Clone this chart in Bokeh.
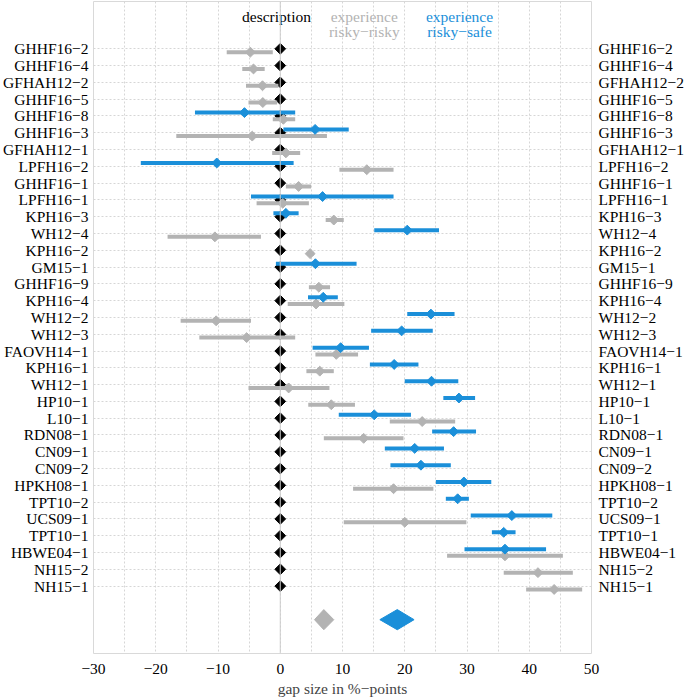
import math
from bokeh.plotting import figure
from bokeh.models import Range1d, FixedTicker, ColumnDataSource, Span, LinearAxis
from bokeh.core.properties import value
from bokeh.embed import file_html
from bokeh.resources import INLINE

# ---------------- data ----------------
studies = ["GHHF16−2", "GHHF16−4", "GFHAH12−2", "GHHF16−5", "GHHF16−8", "GHHF16−3",
           "GFHAH12−1", "LPFH16−2", "GHHF16−1", "LPFH16−1", "KPH16−3", "WH12−4",
           "KPH16−2", "GM15−1", "GHHF16−9", "KPH16−4", "WH12−2", "WH12−3",
           "FAOVH14−1", "KPH16−1", "WH12−1", "HP10−1", "L10−1", "RDN08−1",
           "CN09−1", "CN09−2", "HPKH08−1", "TPT10−2", "UCS09−1", "TPT10−1",
           "HBWE04−1", "NH15−2", "NH15−1"]

# experience risky-risky (grey)
rr_est = [-4.8, -4.3, -2.85, -2.8, 0.5, -4.5, 0.9, 13.9, 2.95, 0.4, 8.6, -10.5,
          4.8, None, 6.2, 5.75, -10.3, -5.4, 9.0, 6.35, 1.35, 8.2, 22.8, 13.4,
          None, None, 18.2, None, 20.0, None, 36.1, 41.4, 44.0]
rr_lo = [-8.6, -6.1, -5.5, -5.1, -1.2, -16.7, -1.3, 9.5, 0.9, -3.8, 7.3, -18.1,
         4.3, None, 4.6, 1.2, -16.0, -13.0, 5.65, 4.2, -5.1, 4.5, 17.6, 7.0,
         None, None, 11.7, None, 10.2, None, 26.8, 35.9, 39.5]
rr_hi = [-1.2, -2.5, -0.3, -0.5, 2.4, 7.5, 3.2, 18.2, 4.95, 4.6, 10.2, -3.1,
         5.4, None, 8.0, 10.3, -4.7, 2.4, 12.5, 8.6, 7.9, 12.0, 28.1, 19.8,
         None, None, 24.6, None, 29.9, None, 45.4, 47.0, 48.5]

# experience risky-safe (blue)
rs_est = [None, None, None, None, -5.75, 5.6, None, -10.2, None, 6.8, 0.9, 20.4,
          None, 5.65, None, 6.9, 24.2, 19.5, 9.7, 18.3, 24.3, 28.7, 15.1, 27.85,
          21.6, 22.6, 29.5, 28.5, 37.2, 35.9, 36.1, None, None]
rs_lo = [None, None, None, None, -13.7, 0.5, None, -22.4, None, -4.7, -1.1, 15.1,
         None, -0.7, None, 4.46, 20.4, 14.6, 5.2, 14.4, 20.0, 26.2, 9.4, 24.4,
         16.8, 17.7, 25.0, 26.6, 30.6, 34.0, 29.6, None, None]
rs_hi = [None, None, None, None, 2.4, 11.0, None, 2.15, None, 18.2, 2.95, 25.5,
         None, 12.26, None, 9.25, 28.0, 24.5, 14.25, 22.2, 28.6, 31.3, 21.0, 31.45,
         26.3, 27.4, 33.9, 30.3, 43.7, 37.8, 42.7, None, None]

# description (reference, black)
desc_est = [0.0] * len(studies)

# pooled estimates (summary diamonds)
summary_names = ["experience risky−risky", "experience risky−safe"]
summary_est = [7.0, 18.8]
summary_lo = [5.5, 16.0]
summary_hi = [8.6, 21.5]

x_ticks = [-30, -20, -10, 0, 10, 20, 30, 40, 50]
x_tick_labels = ["−30", "−20", "−10", "0", "10", "20", "30", "40", "50"]
x_grid = [-25, -20, -15, -10, -5, 0, 5, 10, 15, 20, 25, 30, 35, 40, 45]

# ---------------- styling ----------------
GREY = "#b3b3b3"
BLUE = "#1b8fd9"
FONT = "Liberation Serif"
FS_ROW = "15.5px"
FS = "15.5px"
n = len(studies)
rows = list(range(n))
summary_row = n + 1
off = 0.2

p = figure(frame_width=498, frame_height=652,
           x_range=Range1d(-30.0, 50.0), y_range=Range1d(36.015, -2.817),
           output_backend="svg", toolbar_location=None,
           min_border_left=93, min_border_right=93, min_border_top=1,
           min_border_bottom=44, y_axis_location=None)
p.background_fill_color = "white"
p.border_fill_color = "white"
p.outline_line_color = "#d9d9d9"
p.outline_line_width = 1

# grids
p.xgrid.ticker = FixedTicker(ticks=x_grid)
p.xgrid.grid_line_color = "#d6d6d6"
p.xgrid.grid_line_dash = "2 2"
p.ygrid.ticker = FixedTicker(ticks=rows)
p.ygrid.grid_line_color = "#d6d6d6"
p.ygrid.grid_line_dash = "2 2"
p.add_layout(Span(location=0, dimension="height", line_color="#cccccc", line_width=1))

# x axis
ax = p.xaxis[0]
ax.ticker = FixedTicker(ticks=x_ticks)
ax.major_label_overrides = {t: l for t, l in zip(x_ticks, x_tick_labels)}
ax.axis_line_color = None
ax.major_tick_line_color = None
ax.minor_tick_line_color = None
ax.major_tick_out = 0
ax.major_label_standoff = 10
ax.major_label_text_font = FONT
ax.major_label_text_font_size = FS
ax.major_label_text_color = "black"
ax.axis_label = "gap size in %−points"
ax.axis_label_text_font = FONT
ax.axis_label_text_font_size = FS
ax.axis_label_text_font_style = "normal"
ax.axis_label_standoff = 3

# row label axes on both sides
row_overrides = {i: s for i, s in zip(rows, studies)}
for side, standoff in [("left", 5), ("right", 7)]:
    ya = LinearAxis(ticker=FixedTicker(ticks=rows), major_label_overrides=row_overrides)
    ya.axis_line_color = None
    ya.major_tick_line_color = None
    ya.minor_tick_line_color = None
    ya.major_tick_out = 0
    ya.major_tick_in = 0
    ya.major_label_standoff = standoff
    ya.major_label_text_font = FONT
    ya.major_label_text_font_size = FS_ROW
    ya.major_label_text_color = "black"
    p.add_layout(ya, side)

# description diamonds
p.scatter(x=desc_est, y=rows, marker="square", angle=math.pi / 4, size=7.6,
          fill_color="black", line_color="black")


def series(est, lo, hi, dy):
    d = dict(x=[], lo=[], hi=[], y=[])
    for i, (e, l, h) in enumerate(zip(est, lo, hi)):
        if e is None:
            continue
        d["x"].append(e); d["lo"].append(l); d["hi"].append(h); d["y"].append(i + dy)
    return ColumnDataSource(d)


for est, lo, hi, dy, col in [(rr_est, rr_lo, rr_hi, off, GREY),
                             (rs_est, rs_lo, rs_hi, -off, BLUE)]:
    src = series(est, lo, hi, dy)
    p.segment(x0="lo", y0="y", x1="hi", y1="y", source=src, line_color=col,
              line_width=4, line_cap="butt")
    p.scatter(x="x", y="y", source=src, marker="square", angle=math.pi / 4,
              size=7.0, fill_color=col, line_color=col)

# summary diamonds
h = 0.6
xs = [[l, e, hi_, e] for l, e, hi_ in zip(summary_lo, summary_est, summary_hi)]
ys = [[summary_row, summary_row - h, summary_row, summary_row + h] for _ in summary_est]
p.patches(xs=xs, ys=ys, fill_color=[GREY, BLUE], line_color=[GREY, BLUE])

# legend texts
p.text(x=[-0.6], y=[-1.92], text=["description"], text_font=value(FONT),
       text_font_size=FS, text_align="center", text_baseline="middle", text_color="black")
for xc, name, col in [(13.5, summary_names[0], GREY), (28.8, summary_names[1], BLUE)]:
    l1, l2 = name.split(" ")
    p.text(x=[xc, xc], y=[-1.92, -1.03], text=[l1, l2], text_font=value(FONT),
           text_font_size=FS, text_align="center", text_baseline="middle", text_color=col)

open("out.html", "w").write(file_html(p, INLINE))
